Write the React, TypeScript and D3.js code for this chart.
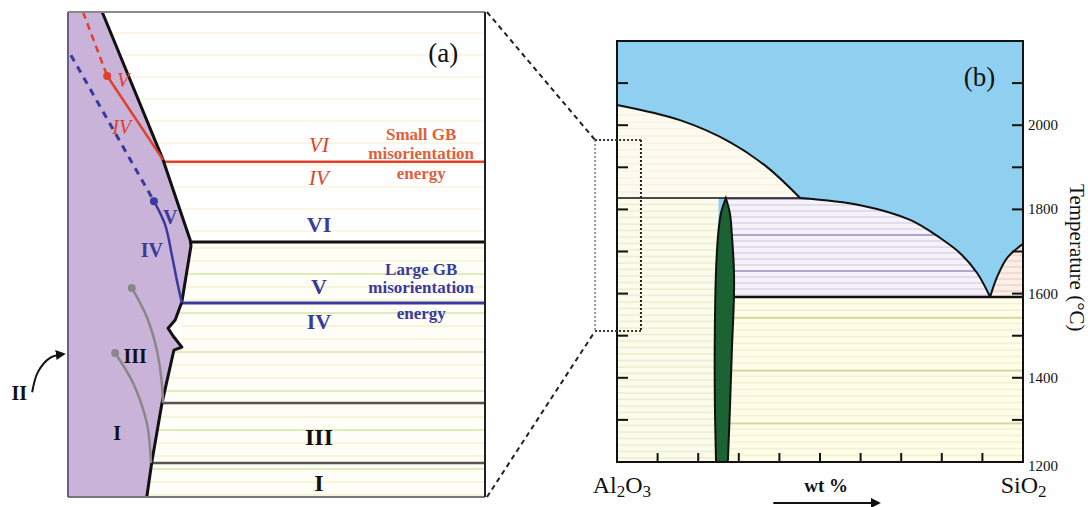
import React from "react";
import * as d3 from "d3";

const W = 1088;
const H = 507;
const serif = "'Liberation Serif', 'Times New Roman', serif";

// ---- panel (b): Al2O3-SiO2 phase diagram (wt% SiO2, temperature in C) ----
const corundumLiquidus = [[0, 2048], [15.5, 2012], [27.8, 1960], [36.9, 1901], [45.1, 1827]];
const mulliteLiquidus = [[45.1, 1827], [59.9, 1810], [72.2, 1775], [79.6, 1732], [84.5, 1696], [88.7, 1649], [91.9, 1592]];
const cristobaliteLiquidus = [[91.9, 1592], [93.6, 1639], [96.1, 1685], [100, 1718]];
const mulliteLeft = [[26.8, 1827], [25.6, 1791], [24.9, 1739], [24.4, 1656], [24.1, 1514], [24.1, 1347], [24.4, 1200]];
const mulliteRight = [[26.8, 1827], [27.8, 1791], [28.3, 1739], [28.8, 1656], [28.8, 1592], [28.3, 1466], [27.8, 1323], [27.3, 1200]];
const T_PERITECTIC = 1827;
const T_EUTECTIC = 1592;
const tempLabels = [1200, 1400, 1600, 1800, 2000];
const tempTicks = [1300, 1400, 1500, 1600, 1700, 1800, 1900, 2000, 2100];
const compTicks = [10, 20, 30, 40, 50, 60, 70, 80, 90];
const zoomBox = { x0: -5.4, x1: 5.9, t0: 1511, t1: 1965 };

// ---- panel (a): schematic close-up (fractions of the panel) ----
const grainEdge = [[0.082, 0], [0.228, 0.305], [0.283, 0.445], [0.293, 0.47], [0.295, 0.482], [0.273, 0.598],
  [0.257, 0.635], [0.24, 0.652], [0.252, 0.668], [0.273, 0.691], [0.254, 0.697], [0.225, 0.808], [0.201, 0.928], [0.189, 1]];
const notch = [[0.257, 0.635], [0.24, 0.652], [0.252, 0.668], [0.273, 0.691], [0.273, 0.64]];
const transitions = [
  { y: 0.309, from: 0.228, color: "#e2402a", w: 2.5 },
  { y: 0.474, from: 0.293, color: "#111", w: 3 },
  { y: 0.6, from: 0.273, color: "#3a3a9e", w: 3 },
  { y: 0.806, from: 0.225, color: "#555", w: 2.5 },
  { y: 0.93, from: 0.201, color: "#555", w: 2.5 },
];
const redDashed = [[0.036, 0], [0.094, 0.132]];
const redSolid = [[0.094, 0.132], [0.228, 0.305]];
const blueDashed = [[0.007, 0.089], [0.206, 0.39]];
const blueSolid = [[0.206, 0.39], [0.233, 0.439], [0.249, 0.501], [0.261, 0.553], [0.273, 0.6]];
const greyUpper = [[0.153, 0.569], [0.189, 0.629], [0.213, 0.697], [0.225, 0.765], [0.228, 0.806]];
const greyLower = [[0.113, 0.703], [0.156, 0.765], [0.189, 0.847], [0.197, 0.903], [0.199, 0.93]];
const arrowII = [[-0.086, 0.784], [-0.072, 0.742], [-0.043, 0.713], [-0.01, 0.705]];

const RED = "#e2402a";
const RED_TXT = "#e0603c";
const BLUE = "#3a3a9e";

const rightLabels = [
  { t: "VI", y: 0.274, color: RED, italic: true, size: 21 },
  { t: "IV", y: 0.342, color: RED, italic: true, size: 21 },
  { t: "VI", y: 0.439, color: BLUE, italic: false, size: 22 },
  { t: "V", y: 0.567, color: BLUE, italic: false, size: 22 },
  { t: "IV", y: 0.639, color: BLUE, italic: false, size: 22 },
  { t: "III", y: 0.876, color: "#111", italic: false, size: 24 },
  { t: "I", y: 0.971, color: "#111", italic: false, size: 24 },
];
const innerLabels = [
  { t: "V", x: 0.132, y: 0.14, color: RED, italic: true },
  { t: "IV", x: 0.129, y: 0.237, color: RED, italic: true },
  { t: "V", x: 0.245, y: 0.423, color: BLUE, italic: false },
  { t: "IV", x: 0.201, y: 0.491, color: BLUE, italic: false },
  { t: "III", x: 0.161, y: 0.709, color: "#111", italic: false },
  { t: "I", x: 0.118, y: 0.868, color: "#111", italic: false },
  { t: "II", x: -0.117, y: 0.785, color: "#111", italic: false },
];
const smallGB = [["Small GB", 0.252], ["misorientation", 0.291], ["energy", 0.334]];
const largeGB = [["Large GB", 0.53], ["misorientation", 0.569], ["energy", 0.621]];

export default function App() {
  const xB = d3.scaleLinear().domain([0, 100]).range([617, 1023]);
  const yB = d3.scaleLinear().domain([1200, 2200]).range([462, 41]);
  const xA = d3.scaleLinear().domain([0, 1]).range([68, 485]);
  const yA = d3.scaleLinear().domain([0, 1]).range([12, 497]);

  const curveB = d3.line<number[]>().x((d) => xB(d[0])).y((d) => yB(d[1])).curve(d3.curveCatmullRom);
  const linA = d3.line<number[]>().x((d) => xA(d[0])).y((d) => yA(d[1]));
  const curveA = d3.line<number[]>().x((d) => xA(d[0])).y((d) => yA(d[1])).curve(d3.curveCatmullRom);
  const cont = (p: string) => p.replace(/^M/, "L");

  const creamPath = `${curveB(corundumLiquidus)}L${xB(0)},${yB(T_PERITECTIC)}Z`;
  const lavPath = `M${xB(mulliteRight[0][0])},${yB(T_PERITECTIC)}${cont(curveB(mulliteLiquidus)!)}L${xB(mulliteRight[0][0])},${yB(T_EUTECTIC)}Z`;
  const pinkPath = `${curveB(cristobaliteLiquidus)}L${xB(100)},${yB(T_EUTECTIC)}Z`;
  const mullitePath = `${curveB(mulliteLeft)}${cont(curveB([...mulliteRight].reverse())!)}Z`;
  const purplePath = `M${xA(0)},${yA(0)}${cont(linA(grainEdge)!)}L${xA(0)},${yA(1)}Z`;

  const fs = (italic: boolean) => (italic ? "italic" : "normal");

  return (
    <svg width={W} height={H} style={{ position: "absolute", left: 0, top: 0, background: "#fff" }} fontFamily={serif}>
      <defs>
        <pattern id="aTop" width="10" height="22" patternUnits="userSpaceOnUse">
          <rect width="10" height="22" fill="#fff" />
          <line x1="0" x2="10" y1="11" y2="11" stroke="#f9f0d6" strokeWidth="1.2" />
        </pattern>
        <pattern id="aLow" width="10" height="39" patternUnits="userSpaceOnUse">
          <rect width="10" height="39" fill="#fefef7" />
          <line x1="0" x2="10" y1="1" y2="1" stroke="#d3e4a6" strokeWidth="1.4" />
          <line x1="0" x2="10" y1="14" y2="14" stroke="#f1eec6" strokeWidth="1.2" />
          <line x1="0" x2="10" y1="27" y2="27" stroke="#f1eec6" strokeWidth="1.2" />
        </pattern>
        <pattern id="bCream" width="10" height="7" patternUnits="userSpaceOnUse">
          <rect width="10" height="7" fill="#fdfbf1" />
          <line x1="0" x2="10" y1="3" y2="3" stroke="#f4efd3" strokeWidth="1" />
        </pattern>
        <pattern id="bGreen" width="10" height="6.5" patternUnits="userSpaceOnUse">
          <rect width="10" height="6.5" fill="#fbfced" />
          <line x1="0" x2="10" y1="3" y2="3" stroke="#e6edc6" strokeWidth="1.3" />
        </pattern>
        <pattern id="bLav" width="10" height="36" patternUnits="userSpaceOnUse">
          <rect width="10" height="36" fill="#f5f2f9" />
          {[0, 6, 12, 24, 30].map((v) => (
            <line key={v} x1="0" x2="10" y1={v + 1} y2={v + 1} stroke="#d8d1e8" strokeWidth="1.4" />
          ))}
          <line x1="0" x2="10" y1="19" y2="19" stroke="#9a8cc2" strokeWidth="1.5" />
        </pattern>
        <pattern id="bYel" width="10" height="52.8" patternUnits="userSpaceOnUse">
          <rect width="10" height="52.8" fill="#fefdea" />
          {[6.6, 13.2, 19.8, 26.4, 33, 39.6, 46.2].map((v) => (
            <line key={v} x1="0" x2="10" y1={v} y2={v} stroke="#f0eec6" strokeWidth="1.2" />
          ))}
          <line x1="0" x2="10" y1="1" y2="1" stroke="#cdc982" strokeWidth="1.5" />
        </pattern>
        <pattern id="bPink" width="10" height="6" patternUnits="userSpaceOnUse">
          <rect width="10" height="6" fill="#fbefe8" />
          <line x1="0" x2="10" y1="3" y2="3" stroke="#ecd0c4" strokeWidth="1.2" />
        </pattern>
        <marker id="arrowHead" viewBox="0 0 10 10" refX="8" refY="5" markerWidth="5" markerHeight="5" orient="auto">
          <path d="M0,0L10,5L0,10Z" fill="#111" />
        </marker>
      </defs>

      {/* ---------------- panel (a) ---------------- */}
      <rect x={xA(0)} y={yA(0)} width={xA(1) - xA(0)} height={yA(transitions[1].y) - yA(0)} fill="url(#aTop)" />
      <rect x={xA(0)} y={yA(transitions[1].y)} width={xA(1) - xA(0)} height={yA(1) - yA(transitions[1].y)} fill="url(#aLow)" />
      <path d={purplePath} fill="#c9b3d9" />
      <path d={`${linA(notch)}Z`} fill="#fff" />
      {transitions.map((t, i) => (
        <line key={i} x1={xA(t.from)} x2={xA(1)} y1={yA(t.y)} y2={yA(t.y)} stroke={t.color} strokeWidth={t.w} />
      ))}
      <path d={linA(grainEdge)!} fill="none" stroke="#111" strokeWidth={3} strokeLinejoin="round" />
      <path d={linA(redDashed)!} fill="none" stroke={RED} strokeWidth={2.5} strokeDasharray="7,5" />
      <path d={linA(redSolid)!} fill="none" stroke={RED} strokeWidth={2.5} />
      <path d={linA(blueDashed)!} fill="none" stroke={BLUE} strokeWidth={3} strokeDasharray="7,6" />
      <path d={curveA(blueSolid)!} fill="none" stroke={BLUE} strokeWidth={2.5} />
      <path d={curveA(greyUpper)!} fill="none" stroke="#888" strokeWidth={2.5} />
      <path d={curveA(greyLower)!} fill="none" stroke="#888" strokeWidth={2.5} />
      <circle cx={xA(redDashed[1][0])} cy={yA(redDashed[1][1])} r={4} fill={RED} />
      <circle cx={xA(blueSolid[0][0])} cy={yA(blueSolid[0][1])} r={4} fill={BLUE} />
      <circle cx={xA(greyUpper[0][0])} cy={yA(greyUpper[0][1])} r={4} fill="#888" />
      <circle cx={xA(greyLower[0][0])} cy={yA(greyLower[0][1])} r={4} fill="#888" />
      <path d={curveA(arrowII)!} fill="none" stroke="#111" strokeWidth={2} markerEnd="url(#arrowHead)" />

      {/* panel (a) frame */}
      <line x1={xA(0)} x2={xA(1)} y1={yA(0)} y2={yA(0)} stroke="#8a8a8a" strokeWidth={2} />
      <line x1={xA(0)} x2={xA(1)} y1={yA(1)} y2={yA(1)} stroke="#777" strokeWidth={2} />
      <line x1={xA(0)} x2={xA(0)} y1={yA(0)} y2={yA(1)} stroke="#6c5d86" strokeWidth={2} />
      <line x1={xA(1)} x2={xA(1)} y1={yA(0)} y2={yA(1)} stroke="#222" strokeWidth={2} />

      {rightLabels.map((l, i) => (
        <text key={i} x={xA(0.602)} y={yA(l.y)} textAnchor="middle" dominantBaseline="central" fontSize={l.size}
          fontWeight={l.italic ? "normal" : "bold"} fontStyle={fs(l.italic)} fill={l.color}>{l.t}</text>
      ))}
      {innerLabels.map((l, i) => (
        <text key={i} x={xA(l.x)} y={yA(l.y)} textAnchor="middle" dominantBaseline="central" fontSize={20}
          fontWeight={l.italic ? "normal" : "bold"} fontStyle={fs(l.italic)} fill={l.color}>{l.t}</text>
      ))}
      {smallGB.map(([s, y]) => (
        <text key={s as string} x={xA(0.847)} y={yA(y as number)} textAnchor="middle" dominantBaseline="central" fontSize={17} fontWeight="bold" fill={RED_TXT}>{s}</text>
      ))}
      {largeGB.map(([s, y]) => (
        <text key={s as string} x={xA(0.847)} y={yA(y as number)} textAnchor="middle" dominantBaseline="central" fontSize={17} fontWeight="bold" fill={BLUE}>{s}</text>
      ))}
      <text x={xA(0.9)} y={yA(0.084)} textAnchor="middle" dominantBaseline="central" fontSize={27} fill="#111">(a)</text>

      {/* ---------------- panel (b) ---------------- */}
      <rect x={xB(0)} y={yB(2200)} width={xB(100) - xB(0)} height={yB(1200) - yB(2200)} fill="#8fd0f0" />
      <path d={creamPath} fill="url(#bCream)" />
      <rect x={xB(0)} y={yB(T_PERITECTIC)} width={xB(25) - xB(0)} height={yB(1200) - yB(T_PERITECTIC)} fill="url(#bGreen)" />
      <path d={lavPath} fill="url(#bLav)" />
      <rect x={xB(26)} y={yB(T_EUTECTIC)} width={xB(100) - xB(26)} height={yB(1200) - yB(T_EUTECTIC)} fill="url(#bYel)" />
      <path d={pinkPath} fill="url(#bPink)" />

      <path d={curveB(corundumLiquidus)!} fill="none" stroke="#111" strokeWidth={2} />
      <path d={curveB(mulliteLiquidus)!} fill="none" stroke="#111" strokeWidth={2} />
      <path d={curveB(cristobaliteLiquidus)!} fill="none" stroke="#111" strokeWidth={2} />
      <line x1={xB(0)} x2={xB(mulliteLiquidus[0][0])} y1={yB(T_PERITECTIC)} y2={yB(T_PERITECTIC)} stroke="#111" strokeWidth={1.5} />
      <line x1={xB(mulliteRight[4][0])} x2={xB(100)} y1={yB(T_EUTECTIC)} y2={yB(T_EUTECTIC)} stroke="#111" strokeWidth={2.5} />
      <path d={mullitePath} fill="#1b6332" stroke="#111" strokeWidth={2} />

      {tempTicks.map((t) => (
        <g key={t}>
          <line x1={xB(0)} x2={xB(0) + 11} y1={yB(t)} y2={yB(t)} stroke="#111" strokeWidth={2} />
          <line x1={xB(100) - 11} x2={xB(100)} y1={yB(t)} y2={yB(t)} stroke="#111" strokeWidth={2} />
        </g>
      ))}
      {compTicks.map((c) => (
        <line key={c} x1={xB(c)} x2={xB(c)} y1={yB(1200)} y2={yB(1200) - 9} stroke="#111" strokeWidth={2} />
      ))}
      <rect x={xB(0)} y={yB(2200)} width={xB(100) - xB(0)} height={yB(1200) - yB(2200)} fill="none" stroke="#111" strokeWidth={2} />

      {tempLabels.map((t) => (
        <text key={t} x={xB(100) + 5} y={yB(t) + (t === 1200 ? 4 : 0)} dominantBaseline="central" fontSize={15} fill="#111">{t}</text>
      ))}
      <text transform={`translate(${xB(100) + 54},${yB(1685)}) rotate(90)`} textAnchor="middle" dominantBaseline="central" fontSize={21} fill="#111">
        Temperature (°C)
      </text>
      <text x={xB(-6)} y={493} fontSize={24} fill="#111">
        Al<tspan fontSize={17} dy={4}>2</tspan><tspan dy={-4}>O</tspan><tspan fontSize={17} dy={4}>3</tspan>
      </text>
      <text x={xB(94.5)} y={493} fontSize={24} fill="#111">
        SiO<tspan fontSize={17} dy={4}>2</tspan>
      </text>
      <text x={xB(51.5)} y={492} textAnchor="middle" fontSize={19} fontWeight="bold" fill="#111">wt %</text>
      <line x1={xB(38.5)} x2={xB(64.5)} y1={503} y2={503} stroke="#111" strokeWidth={2} markerEnd="url(#arrowHead)" />
      <text x={xB(89.3)} y={yB(2115)} textAnchor="middle" dominantBaseline="central" fontSize={27} fill="#111">(b)</text>

      {/* zoom box and connectors */}
      <line x1={xB(zoomBox.x0)} x2={xB(zoomBox.x0)} y1={yB(zoomBox.t1)} y2={yB(zoomBox.t0)} stroke="#999" strokeWidth={2} strokeDasharray="2,2" />
      <line x1={xB(zoomBox.x1)} x2={xB(zoomBox.x1)} y1={yB(zoomBox.t1)} y2={yB(zoomBox.t0)} stroke="#222" strokeWidth={2} strokeDasharray="2,2" />
      <line x1={xB(zoomBox.x0)} x2={xB(zoomBox.x1)} y1={yB(zoomBox.t1)} y2={yB(zoomBox.t1)} stroke="#333" strokeWidth={2} strokeDasharray="2,2" />
      <line x1={xB(zoomBox.x0)} x2={xB(zoomBox.x1)} y1={yB(zoomBox.t0)} y2={yB(zoomBox.t0)} stroke="#333" strokeWidth={2} strokeDasharray="2,2" />
      <line x1={xA(1) + 2} y1={yA(0)} x2={xB(zoomBox.x0)} y2={yB(zoomBox.t1)} stroke="#222" strokeWidth={2} strokeDasharray="5,4" />
      <line x1={xA(1) + 2} y1={yA(1)} x2={xB(zoomBox.x0)} y2={yB(zoomBox.t0)} stroke="#222" strokeWidth={2} strokeDasharray="5,4" />
    </svg>
  );
}
